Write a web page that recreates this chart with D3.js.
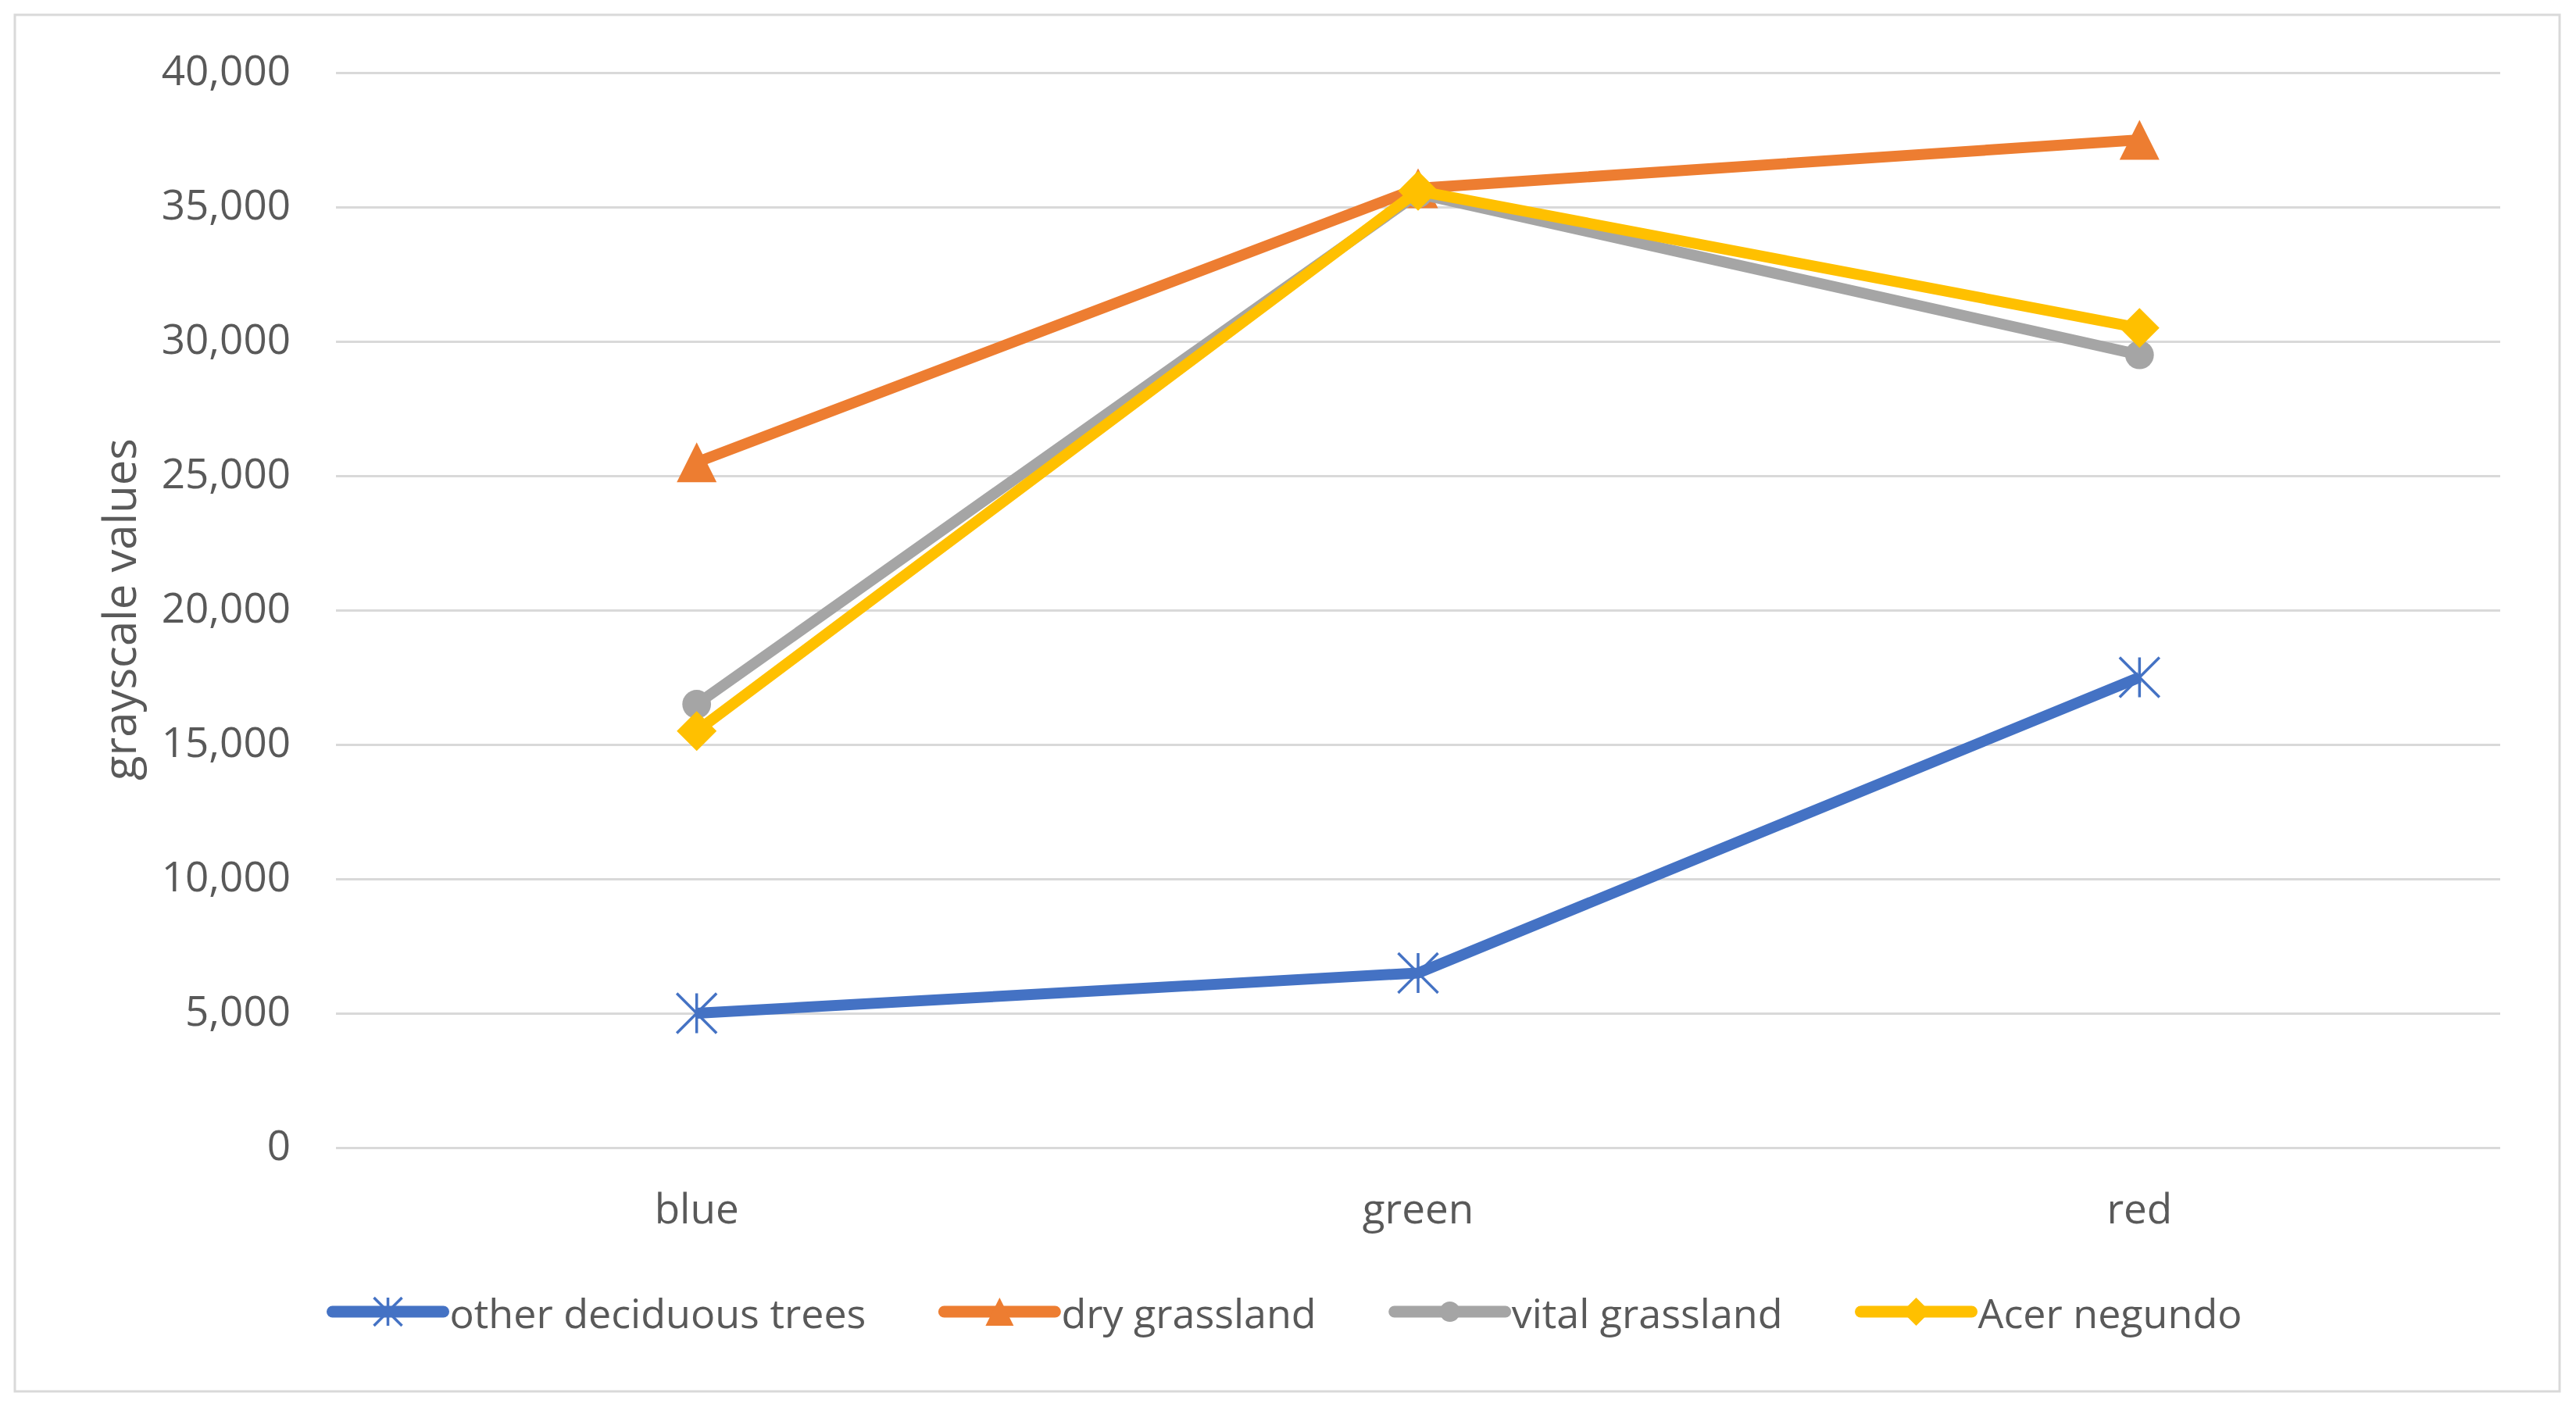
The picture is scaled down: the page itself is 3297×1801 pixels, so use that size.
<!DOCTYPE html>
<html>
<head>
<meta charset="utf-8">
<script src="https://cdn.jsdelivr.net/npm/d3@7"></script>
<style>
  body { margin: 0; background: #fff; }
  svg { display: block; }
  svg text { font-family: "Open Sans", sans-serif; }
</style>
</head>
<body>
<svg id="chart"></svg>
<script>
const categories = ["blue", "green", "red"];
const seriesNames = ["other deciduous trees", "dry grassland", "vital grassland", "Acer negundo"];
const otherDeciduous = [5000, 6500, 17500];
const dryGrassland = [25500, 35700, 37500];
const vitalGrassland = [16500, 35500, 29500];
const acerNegundo = [15500, 35600, 30500];
const yTicks = [0, 5000, 10000, 15000, 20000, 25000, 30000, 35000, 40000];
const yTitle = "grayscale values";

const WIDTH = 3297;
const HEIGHT = 1801;
const PLOT_LEFT = 430;   // gridlines start here
const PLOT_RIGHT = 3200; // gridlines end here
const PLOT_TOP = 93;     // 40,000 line
const PLOT_BOTTOM = 1469; // 0 line
const FONT = "'Open Sans', sans-serif";
const TEXT = "#595959";
const GRID = "#d9d9d9";

const series = [
  {name: seriesNames[0], values: otherDeciduous, color: "#4472C4", marker: "star"},
  {name: seriesNames[1], values: dryGrassland, color: "#ED7D31", marker: "triangle"},
  {name: seriesNames[2], values: vitalGrassland, color: "#A5A5A5", marker: "circle"},
  {name: seriesNames[3], values: acerNegundo, color: "#FFC000", marker: "diamond"}
];

const svg = d3.select("#chart")
  .attr("width", WIDTH)
  .attr("height", HEIGHT);

svg.append("rect") //white background
  .attr("width", WIDTH).attr("height", HEIGHT).attr("fill", "#fff");

svg.append("rect") //chart frame
  .attr("x", 19).attr("y", 19)
  .attr("width", 3276 - 19).attr("height", 1781 - 19)
  .attr("fill", "none").attr("stroke", GRID).attr("stroke-width", 3);

const xScale = d3.scaleBand()
  .domain(categories)
  .range([PLOT_LEFT, PLOT_RIGHT]);

const yScale = d3.scaleLinear()
  .domain([0, 40000])
  .range([PLOT_BOTTOM, PLOT_TOP]);

// y axis with gridlines
const yAxis = d3.axisLeft(yScale)
  .tickValues(yTicks)
  .tickFormat(d3.format(","))
  .tickSize(-(PLOT_RIGHT - PLOT_LEFT))
  .tickPadding(58);

svg.append("g")
  .attr("class", "axis")
  .attr("transform", "translate(" + PLOT_LEFT + ",0)")
  .call(yAxis)
  .attr("font-family", FONT) //axis sets its own font, override it
  .attr("font-size", 53)
  .call(g => g.select(".domain").remove())
  .call(g => g.selectAll(".tick line").attr("stroke", GRID).attr("stroke-width", 3))
  .call(g => g.selectAll(".tick text").attr("fill", TEXT).attr("dy", "0.29em"));

// category axis
const xAxis = d3.axisBottom(xScale)
  .tickSize(0)
  .tickPadding(59);

svg.append("g")
  .attr("class", "axis")
  .attr("transform", "translate(0," + PLOT_BOTTOM + ")")
  .call(xAxis)
  .attr("font-family", FONT)
  .attr("font-size", 53)
  .call(g => g.select(".domain").remove())
  .call(g => g.selectAll(".tick text").attr("fill", TEXT));

svg.append("text") //y axis title
  .attr("transform", "translate(151,780) rotate(-90)")
  .attr("text-anchor", "middle")
  .attr("dominant-baseline", "central")
  .attr("font-size", 58)
  .attr("fill", TEXT)
  .text(yTitle);

// marker shapes, centred on 0,0
function markerPath(type, s) {
  const h = s / 2;
  if (type === "triangle") return "M0," + (-h) + "L" + h + "," + h + "L" + (-h) + "," + h + "Z";
  if (type === "diamond") return "M0," + (-h) + "L" + h + ",0L0," + h + "L" + (-h) + ",0Z";
  if (type === "star") return "M0," + (-h) + "V" + h + "M" + (-h) + "," + (-h) + "L" + h + "," + h + "M" + h + "," + (-h) + "L" + (-h) + "," + h;
  return null;
}

function drawMarker(g, s, size) {
  if (s.marker === "circle") {
    g.append("circle").attr("r", size * 0.36).attr("fill", s.color);
  } else if (s.marker === "star") {
    g.append("path").attr("d", markerPath("star", size))
      .attr("fill", "none").attr("stroke", s.color).attr("stroke-width", 3.5);
  } else {
    g.append("path").attr("d", markerPath(s.marker, size)).attr("fill", s.color);
  }
}

const line = d3.line()
  .x((d, i) => xScale(categories[i]) + xScale.bandwidth() / 2)
  .y(d => yScale(d));

series.forEach(s => {
  const g = svg.append("g").attr("class", "series");
  g.append("path")
    .datum(s.values)
    .attr("d", line)
    .attr("fill", "none")
    .attr("stroke", s.color)
    .attr("stroke-width", 14)
    .attr("stroke-linejoin", "round");
  g.selectAll(".pt")
    .data(s.values)
    .enter()
    .append("g")
    .attr("class", "pt")
    .attr("transform", (d, i) => "translate(" + (xScale(categories[i]) + xScale.bandwidth() / 2) + "," + yScale(d) + ")")
    .each(function() { drawMarker(d3.select(this), s, 51); });
});

// legend, centred on the frame
const LEG_Y = 1679;
const LEG_LINE = 142;
const LEG_GAP_TEXT = 8;
const LEG_GAP_ITEM = 100;
const legend = svg.append("g").attr("class", "legend");
const items = series.map(s => {
  const g = legend.append("g");
  g.append("line")
    .attr("x1", 0).attr("x2", LEG_LINE)
    .attr("stroke", s.color).attr("stroke-width", 15).attr("stroke-linecap", "round");
  drawMarker(g.append("g").attr("transform", "translate(" + LEG_LINE / 2 + ",0)"), s, 36);
  const t = g.append("text")
    .attr("x", LEG_LINE + LEG_GAP_TEXT)
    .attr("dominant-baseline", "central")
    .attr("font-size", 52)
    .attr("fill", TEXT)
    .text(s.name);
  return {g: g, w: LEG_LINE + LEG_GAP_TEXT + t.node().getComputedTextLength()};
});
const total = d3.sum(items, d => d.w) + LEG_GAP_ITEM * (items.length - 1);
let lx = (19 + 3276) / 2 - total / 2;
items.forEach(it => {
  it.g.attr("transform", "translate(" + lx + "," + LEG_Y + ")");
  lx += it.w + LEG_GAP_ITEM;
});
</script>
</body>
</html>
